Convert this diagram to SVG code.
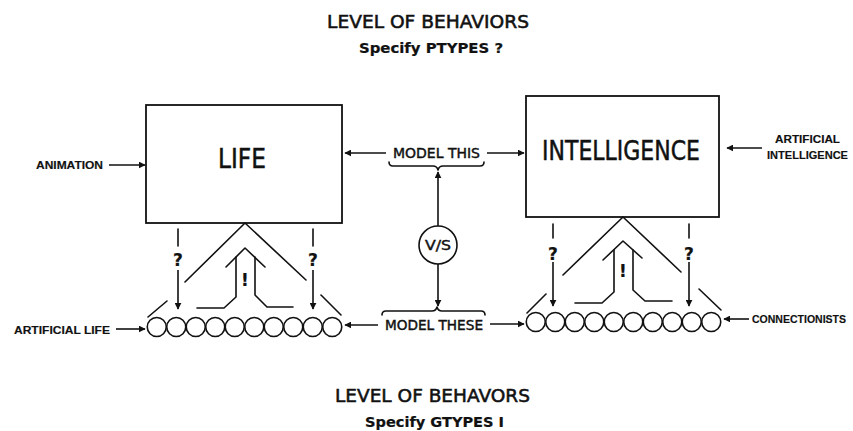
<svg xmlns="http://www.w3.org/2000/svg" width="853" height="431" viewBox="0 0 853 431">
  <defs>
    <marker id="ah" viewBox="0 0 10 10" refX="9" refY="5" markerWidth="7" markerHeight="7" markerUnits="userSpaceOnUse" orient="auto">
      <path d="M0,0 L10,5 L0,10 z" fill="#111"/>
    </marker>
    <style>
      .ln { fill: none; stroke: #111; stroke-width: 1.6; stroke-linecap: round; stroke-linejoin: round; }
      .box { fill: #fff; stroke: #111; stroke-width: 1.8; }
      .bead { fill: #fff; stroke: #111; stroke-width: 1.6; }
      .arr { fill: none; stroke: #111; stroke-width: 1.6; marker-end: url(#ah); }
      .t { font-family: "DejaVu Sans", "Liberation Sans", sans-serif; fill: #111; stroke: #111; stroke-width: 0.35; }
      .big { font-size: 26px; stroke-width: 0.5; }
      .ttl { font-size: 18px; stroke-width: 0.55; }
      .sub { font-size: 14px; font-weight: bold; stroke-width: 0.2; }
      .mid { font-size: 14px; stroke-width: 0.45; }
      .sm { font-family: "Liberation Sans", Arial, sans-serif; font-size: 10.5px; font-weight: bold; stroke-width: 0.15; }
      .q { font-size: 17px; font-weight: bold; text-anchor: middle; stroke-width: 0.2; }
    </style>
  </defs>

  <rect width="853" height="431" fill="#fff"/>

  <!-- headings -->
  <g id="top-heading">
    <text class="t ttl" x="327" y="28" textLength="202" lengthAdjust="spacingAndGlyphs">LEVEL OF BEHAVIORS</text>
    <text class="t sub" x="359" y="53" textLength="144" lengthAdjust="spacingAndGlyphs">Specify PTYPES ?</text>
  </g>
  <g id="bottom-heading">
    <text class="t ttl" x="335" y="402" textLength="195" lengthAdjust="spacingAndGlyphs">LEVEL OF BEHAVORS</text>
    <text class="t sub" x="365" y="427" textLength="139" lengthAdjust="spacingAndGlyphs">Specify GTYPES I</text>
  </g>

  <!-- upper boxes -->
  <g id="life">
    <rect class="box" x="146" y="105" width="196" height="118"/>
    <text class="t big" x="218" y="168" textLength="48" lengthAdjust="spacingAndGlyphs">LIFE</text>
  </g>
  <g id="intelligence">
    <rect class="box" x="526" y="96" width="193" height="121"/>
    <text class="t big" x="542" y="160" textLength="158" lengthAdjust="spacingAndGlyphs">INTELLIGENCE</text>
  </g>

  <!-- V/S switch -->
  <g id="vs">
    <circle class="bead" cx="438" cy="245" r="19"/>
    <text class="t mid" x="438" y="250" text-anchor="middle" textLength="26" lengthAdjust="spacingAndGlyphs">V/S</text>
  </g>

  <!-- bead chains -->
  <g id="life-units">
    <circle class="bead" cx="156.75" cy="327" r="9.5"/>
    <circle class="bead" cx="176.25" cy="327" r="9.5"/>
    <circle class="bead" cx="195.75" cy="327" r="9.5"/>
    <circle class="bead" cx="215.25" cy="327" r="9.5"/>
    <circle class="bead" cx="234.75" cy="327" r="9.5"/>
    <circle class="bead" cx="254.25" cy="327" r="9.5"/>
    <circle class="bead" cx="273.75" cy="327" r="9.5"/>
    <circle class="bead" cx="293.25" cy="327" r="9.5"/>
    <circle class="bead" cx="312.75" cy="327" r="9.5"/>
    <circle class="bead" cx="332.25" cy="327" r="9.5"/>
  </g>
  <g id="intelligence-units">
    <circle class="bead" cx="535.75" cy="322" r="9.5"/>
    <circle class="bead" cx="555.25" cy="322" r="9.5"/>
    <circle class="bead" cx="574.75" cy="322" r="9.5"/>
    <circle class="bead" cx="594.25" cy="322" r="9.5"/>
    <circle class="bead" cx="613.75" cy="322" r="9.5"/>
    <circle class="bead" cx="633.25" cy="322" r="9.5"/>
    <circle class="bead" cx="652.75" cy="322" r="9.5"/>
    <circle class="bead" cx="672.25" cy="322" r="9.5"/>
    <circle class="bead" cx="691.75" cy="322" r="9.5"/>
    <circle class="bead" cx="711.25" cy="322" r="9.5"/>
  </g>

  <!-- side labels -->
  <g id="label-animation">
    <text class="t sm" x="36" y="169" textLength="67" lengthAdjust="spacingAndGlyphs">ANIMATION</text>
  </g>
  <g id="label-ai">
    <text class="t sm" x="775" y="143" textLength="65" lengthAdjust="spacingAndGlyphs">ARTIFICIAL</text>
    <text class="t sm" x="767" y="159" textLength="81" lengthAdjust="spacingAndGlyphs">INTELLIGENCE</text>
  </g>
  <g id="label-alife">
    <text class="t sm" x="14" y="334" textLength="96" lengthAdjust="spacingAndGlyphs">ARTIFICIAL LIFE</text>
  </g>
  <g id="label-connectionists">
    <text class="t sm" x="752" y="323" textLength="94" lengthAdjust="spacingAndGlyphs">CONNECTIONISTS</text>
  </g>
  <g id="label-model-this">
    <text class="t mid" x="393" y="158" textLength="87" lengthAdjust="spacingAndGlyphs">MODEL THIS</text>
  </g>
  <g id="label-model-these">
    <text class="t mid" x="385" y="330" textLength="98" lengthAdjust="spacingAndGlyphs">MODEL THESE</text>
  </g>

  <!-- connectors -->
  <g id="connectors">
    <!-- side inputs -->
    <line class="arr" x1="109" y1="165" x2="145" y2="165"/>
    <line class="arr" x1="762" y1="148" x2="727" y2="148"/>
    <line class="arr" x1="116" y1="329" x2="145" y2="329"/>
    <line class="arr" x1="749" y1="319" x2="724" y2="319"/>

    <!-- MODEL THIS links -->
    <line class="arr" x1="386" y1="153" x2="345" y2="153"/>
    <line class="arr" x1="487" y1="153" x2="524" y2="153"/>
    <path class="ln" d="M389,162 Q389,166 393,166 L433,166 Q437,166 438,170 Q439,166 443,166 L480,166 Q484,166 484,162"/>
    <line class="arr" x1="438" y1="226" x2="438" y2="172"/>

    <!-- MODEL THESE links -->
    <line class="arr" x1="438" y1="264" x2="438" y2="306"/>
    <path class="ln" d="M382,315 Q382,311 386,311 L432,311 Q436,311 437,307 Q438,311 442,311 L481,311 Q485,311 485,315"/>
    <line class="arr" x1="378" y1="325" x2="345" y2="325"/>
    <line class="arr" x1="490" y1="324" x2="524" y2="324"/>

    <!-- LIFE: emergence chevrons -->
    <path class="ln" d="M185,282 L245,223 L306,280"/>
    <path class="ln" d="M226,267 L245,248 L265,267"/>
    <path class="ln" d="M236,257 L236,297 L224,308 L197,308"/>
    <path class="ln" d="M255,257 L255,295 L267,307 L293,307"/>
    <line class="ln" x1="148" y1="317" x2="167" y2="301"/>
    <line class="ln" x1="321" y1="295" x2="341" y2="315"/>
    <!-- LIFE: questioned top-down links -->
    <line class="ln" x1="178" y1="229" x2="178" y2="246"/>
    <line class="arr" x1="178" y1="270" x2="178" y2="309"/>
    <line class="ln" x1="313" y1="229" x2="313" y2="246"/>
    <line class="arr" x1="313" y1="270" x2="313" y2="309"/>

    <!-- INTELLIGENCE: emergence chevrons -->
    <path class="ln" d="M563,275 L623,217 L681,272"/>
    <path class="ln" d="M603,260 L623,241 L642,258"/>
    <path class="ln" d="M614,250 L614,292 L602,303 L575,303"/>
    <path class="ln" d="M633,250 L633,290 L645,301 L672,301"/>
    <line class="ln" x1="527" y1="313" x2="546" y2="294"/>
    <line class="ln" x1="699" y1="289" x2="721" y2="310"/>
    <!-- INTELLIGENCE: questioned top-down links -->
    <line class="ln" x1="553" y1="224" x2="553" y2="238"/>
    <line class="arr" x1="553" y1="262" x2="553" y2="306"/>
    <line class="ln" x1="689" y1="224" x2="689" y2="238"/>
    <line class="arr" x1="689" y1="262" x2="689" y2="306"/>
  </g>

  <!-- link marks -->
  <g id="marks">
    <text class="t q" x="178" y="266">?</text>
    <text class="t q" x="313" y="266">?</text>
    <text class="t q" x="245" y="286">!</text>
    <text class="t q" x="553" y="260">?</text>
    <text class="t q" x="689" y="260">?</text>
    <text class="t q" x="623" y="277">!</text>
  </g>
</svg>
